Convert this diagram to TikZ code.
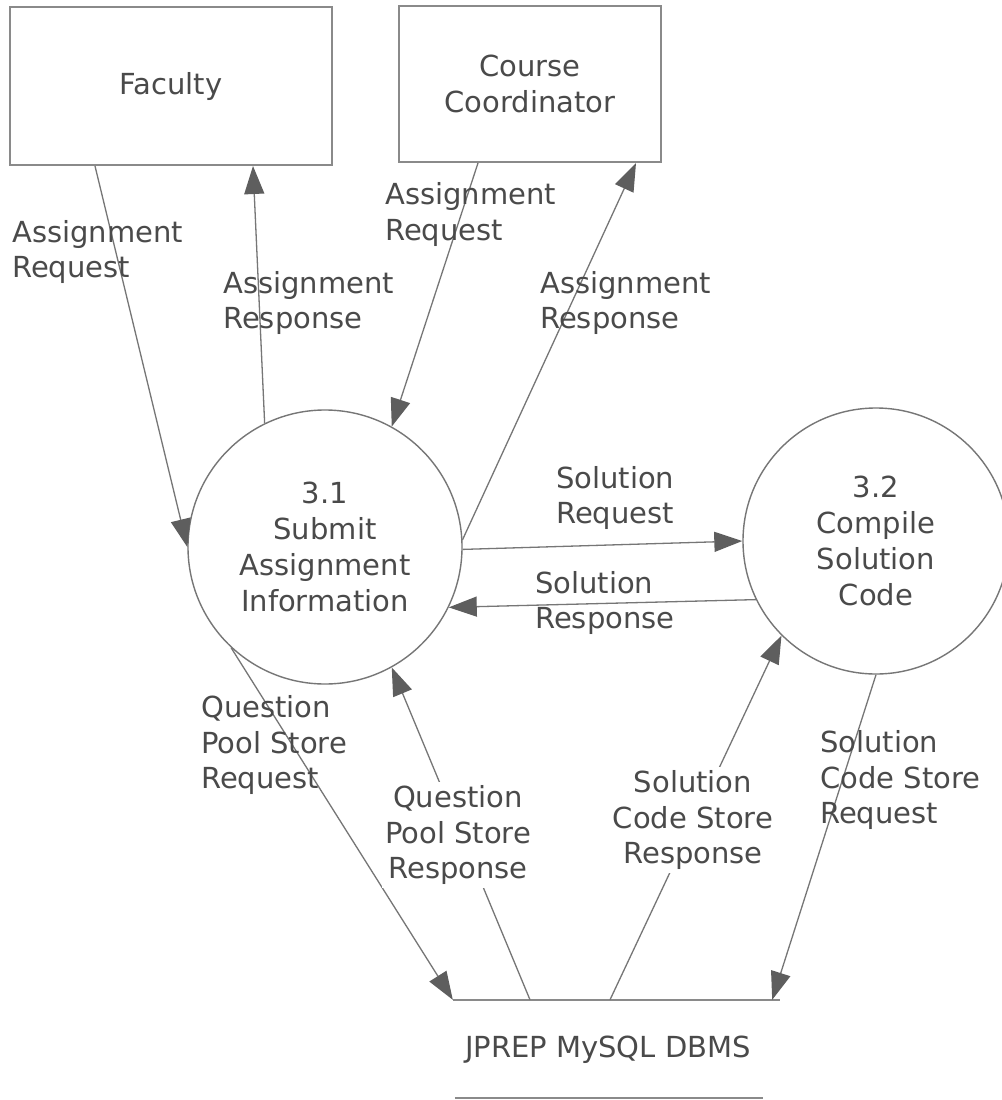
\documentclass[tikz,border=0pt]{standalone}
\usepackage{fontspec}
\setmainfont{DejaVu Sans}
\usetikzlibrary{arrows.meta}
\definecolor{linec}{HTML}{767676}
\definecolor{txtc}{HTML}{4A4A4A}
\definecolor{tipc}{HTML}{5E5E5E}
\definecolor{boxc}{HTML}{8A8A8A}
\begin{document}
\begin{tikzpicture}[x=1pt,y=-1pt,
  lbl/.style={font=\fontsize{29}{35.5}\selectfont, text=txtc, inner sep=0pt, align=left},
  ext/.style={draw=boxc, line width=2pt, inner sep=0pt, align=center, text=txtc, font=\fontsize{29}{36}\selectfont},
  proc/.style={circle, draw=linec, line width=1.4pt, inner sep=0pt, align=center, text=txtc, font=\fontsize{29}{36}\selectfont},
  flow/.style={draw=linec, line width=1.3pt, -{Triangle[length=28pt,width=20pt,fill=tipc,color=tipc]}},
  storeline/.style={draw=boxc, line width=1.6pt}]
\useasboundingbox (0,0) rectangle (1001,1100);
\fill[white] (0,0) rectangle (1001,1100);

% external entities
\node[ext, minimum width=322pt, minimum height=158pt] (fac) at (171,86) {Faculty};
\node[ext, minimum width=262pt, minimum height=156pt] (cc) at (530,84) {Course\\Coordinator};

% processes
\node[proc, minimum size=274pt] (c31) at (325,547) {3.1\\Submit\\Assignment\\Information};
\node[proc, minimum size=266pt] (c32) at (876,541) {3.2\\Compile\\Solution\\Code};

% data store
\node[minimum width=327pt, minimum height=98pt, inner sep=0pt] (db) at (616.5,1049) {};
\draw[storeline] (db.north west) -- (db.north east);
\draw[storeline] ([xshift=2pt]db.south west) -- ([xshift=-17pt]db.south east);
\node[lbl] (dbt) at (608,1050) {JPREP MySQL DBMS};

% flows
\draw[flow] ([xshift=-76pt]fac.south) -- (c31.180);
\draw[flow] (c31.116) -- ([xshift=82pt]fac.south);
\draw[flow] ([xshift=-52pt]cc.south) -- (c31.61);
\draw[flow] (c31.3) -- ([xshift=106pt]cc.south);
\draw[flow] (c31.-1) -- (c32.180);
\draw[flow] (c32.206) -- (c31.-26);
\draw[flow] (c31.-133) -- (db.north west);
\draw[flow] ([xshift=-86.5pt]db.north) -- (c31.-61);
\draw[flow] ([xshift=-6.5pt]db.north) -- (c32.-135);
\draw[flow] (c32.-90) -- ([xshift=-8pt]db.north east);

% labels
\node[lbl, anchor=west] (l1) at (12,252) {Assignment\\Request};
\node[lbl, anchor=west] (l2) at (223,303) {Assignment\\Response};
\node[lbl, anchor=west] (l3) at (385,214.5) {Assignment\\Request};
\node[lbl, anchor=west] (l4) at (540,303) {Assignment\\Response};
\node[lbl, anchor=west] (l5) at (556,498) {Solution\\Request};
\node[lbl, anchor=west] (l6) at (535,603) {Solution\\Response};
\node[lbl, anchor=west] (l7) at (201,745) {Question\\Pool Store\\Request};
\node[lbl, align=center, fill=white, inner sep=3pt] (l8) at (458,835) {Question\\Pool Store\\Response};
\node[lbl, align=center, fill=white, inner sep=3pt] (l9) at (693,820) {Solution\\Code Store\\Response};
\node[lbl, anchor=west] (l10) at (820,780) {Solution\\Code Store\\Request};
\end{tikzpicture}
\end{document}
